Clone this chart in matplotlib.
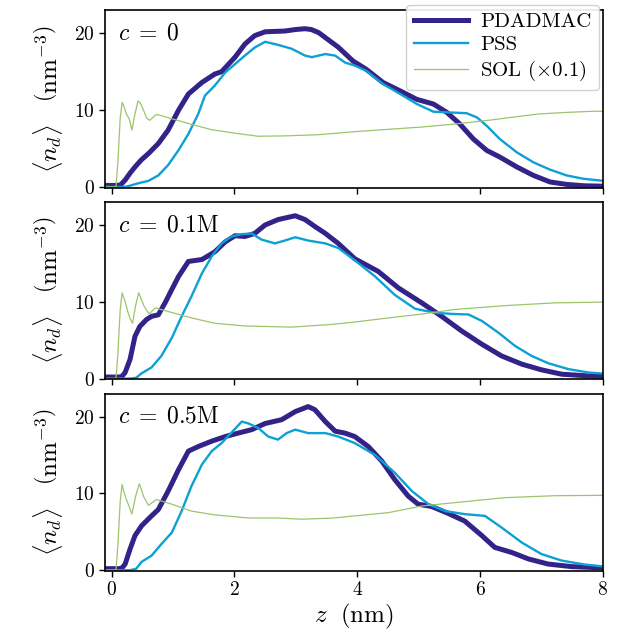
import numpy as np
import matplotlib
matplotlib.use("Agg")
import matplotlib.pyplot as plt

plt.rcParams['font.family'] = 'serif'
plt.rcParams['font.serif'] = ['cmr10', 'DejaVu Serif']
plt.rcParams['mathtext.fontset'] = 'cm'
plt.rcParams['axes.formatter.use_mathtext'] = True
plt.rcParams['axes.unicode_minus'] = False

panel_labels = [r'$c\;=\;0$', r'$c\;=\;0.1\mathrm{M}$', r'$c\;=\;0.5\mathrm{M}$']
series_names = ['PDADMAC', 'PSS', r'SOL ($\times 0.1$)']
y_ticks = [0, 10, 20]
x_ticks = [0, 2, 4, 6, 8]

# ---- panel 1 (c = 0) ----
p1_pdadmac_z = [-0.11, 0.10, 0.15, 0.22, 0.30, 0.38, 0.48, 0.60, 0.76, 0.92, 1.09, 1.25, 1.47, 1.68, 1.79,
                2.01, 2.17, 2.33, 2.50, 2.82, 3.00, 3.15, 3.25, 3.37, 3.69, 3.93, 4.15, 4.42, 4.70, 4.97,
                5.24, 5.46, 5.67, 5.89, 6.11, 6.32, 6.60, 6.87, 7.14, 7.41, 7.70, 8.00]
p1_pdadmac_n = [0.2, 0.2, 0.3, 0.9, 1.8, 2.6, 3.5, 4.35, 5.65, 7.4, 10.0, 12.1, 13.6, 14.7, 15.0,
                16.9, 18.6, 19.7, 20.2, 20.3, 20.5, 20.6, 20.5, 20.1, 18.2, 16.4, 15.3, 13.6, 12.5, 11.4,
                10.8, 9.7, 8.2, 6.25, 4.75, 3.9, 2.6, 1.5, 0.65, 0.33, 0.15, 0.1]
p1_pss_z = [-0.11, 0.20, 0.27, 0.43, 0.60, 0.76, 0.92, 1.09, 1.25, 1.41, 1.52, 1.68, 1.85, 2.01, 2.17,
            2.33, 2.50, 2.71, 2.93, 3.15, 3.26, 3.48, 3.64, 3.80, 3.96, 4.15, 4.42, 4.70, 4.97, 5.24,
            5.51, 5.78, 5.95, 6.11, 6.32, 6.60, 6.87, 7.14, 7.41, 7.68, 8.00]
p1_pss_n = [0.0, 0.0, 0.1, 0.47, 0.8, 1.5, 2.85, 4.8, 6.9, 9.5, 11.9, 13.2, 14.9, 16.0, 17.1,
            18.15, 18.9, 18.5, 18.0, 17.1, 16.9, 17.3, 17.1, 16.2, 15.8, 15.1, 13.4, 12.1, 10.8, 9.8,
            9.7, 9.6, 9.05, 7.95, 6.25, 4.5, 3.2, 2.25, 1.5, 1.07, 0.8]
p1_sol_z = [-0.11, 0.07, 0.10, 0.14, 0.17, 0.20, 0.24, 0.29, 0.33, 0.38, 0.43, 0.47, 0.52, 0.57, 0.62,
            0.68, 0.73, 0.80, 0.98, 1.30, 1.63, 2.06, 2.39, 2.82, 3.37, 3.96, 4.50, 5.05, 5.60, 6.13,
            6.55, 6.95, 7.40, 7.76, 8.00]
p1_sol_n = [0.0, 0.0, 3.0, 9.0, 11.0, 10.5, 9.5, 8.8, 7.4, 9.5, 11.2, 10.9, 9.96, 9.0, 8.67,
            9.1, 9.44, 9.3, 8.88, 8.15, 7.45, 6.94, 6.6, 6.65, 6.8, 7.2, 7.5, 7.8, 8.2, 8.67,
            9.1, 9.5, 9.7, 9.83, 9.87]

# ---- panel 2 (c = 0.1M) ----
p2_pdadmac_z = [-0.11, 0.12, 0.17, 0.22, 0.30, 0.38, 0.46, 0.57, 0.65, 0.76, 0.87, 0.98, 1.09, 1.25, 1.47,
                1.68, 1.85, 2.01, 2.17, 2.33, 2.50, 2.71, 2.99, 3.15, 3.31, 3.48, 3.69, 3.96, 4.34, 4.67,
                5.05, 5.37, 5.70, 6.03, 6.35, 6.68, 7.00, 7.33, 7.76, 8.00]
p2_pdadmac_n = [0.2, 0.2, 0.3, 0.8, 2.5, 5.5, 6.8, 7.7, 8.1, 8.3, 9.86, 11.6, 13.3, 15.25, 15.5,
                16.5, 17.8, 18.6, 18.5, 18.9, 20.0, 20.7, 21.2, 20.7, 19.8, 18.9, 17.6, 15.6, 13.96, 11.8,
                9.86, 8.13, 6.2, 4.47, 2.95, 1.88, 1.14, 0.57, 0.35, 0.3]
p2_pss_z = [-0.11, 0.30, 0.40, 0.49, 0.65, 0.81, 0.98, 1.14, 1.30, 1.47, 1.63, 1.79, 1.95, 2.12, 2.28,
            2.44, 2.66, 2.82, 2.99, 3.20, 3.48, 3.69, 3.96, 4.29, 4.61, 4.94, 5.27, 5.59, 5.81, 6.03,
            6.30, 6.57, 6.84, 7.11, 7.44, 7.76, 8.00]
p2_pss_n = [0.0, 0.0, 0.1, 0.7, 1.45, 2.95, 5.3, 8.1, 10.7, 13.7, 15.9, 17.6, 18.5, 18.8, 18.9,
            18.1, 17.6, 17.97, 18.4, 17.97, 17.6, 17.0, 15.4, 13.3, 10.9, 9.1, 8.56, 8.4, 8.35, 7.5,
            5.97, 4.25, 2.95, 2.0, 1.23, 0.8, 0.65]
p2_sol_z = [-0.11, 0.07, 0.10, 0.14, 0.17, 0.21, 0.26, 0.30, 0.34, 0.39, 0.44, 0.48, 0.53, 0.61, 0.71,
            0.98, 1.30, 1.68, 2.17, 2.93, 3.58, 3.96, 4.51, 5.05, 5.59, 6.41, 7.22, 8.00]
p2_sol_n = [0.0, 0.0, 3.0, 9.0, 11.16, 10.3, 8.8, 7.8, 7.2, 9.5, 11.16, 10.4, 9.4, 8.4, 9.2,
            8.6, 7.9, 7.2, 6.85, 6.7, 7.05, 7.36, 7.9, 8.4, 9.0, 9.5, 9.86, 9.96]

# ---- panel 3 (c = 0.5M) ----
p3_pdadmac_z = [-0.11, 0.12, 0.17, 0.22, 0.30, 0.38, 0.49, 0.65, 0.76, 0.92, 1.09, 1.25, 1.41, 1.63, 1.85,
                2.06, 2.28, 2.50, 2.77, 2.99, 3.20, 3.31, 3.48, 3.64, 3.80, 3.96, 4.18, 4.40, 4.61, 4.83,
                4.99, 5.21, 5.48, 5.75, 6.03, 6.24, 6.52, 6.79, 7.11, 7.49, 8.00]
p3_pdadmac_n = [0.2, 0.2, 0.3, 0.8, 2.75, 4.5, 5.8, 7.07, 7.9, 10.3, 13.1, 15.5, 16.1, 16.8, 17.4,
                17.85, 18.3, 19.1, 19.6, 20.65, 21.3, 20.9, 19.35, 18.1, 17.85, 17.4, 16.1, 14.2, 11.8, 9.65,
                8.6, 8.3, 7.4, 6.4, 4.5, 2.97, 2.3, 1.46, 0.8, 0.47, 0.3]
p3_pss_z = [-0.11, 0.30, 0.40, 0.49, 0.65, 0.81, 0.98, 1.14, 1.30, 1.47, 1.63, 1.79, 1.95, 2.12, 2.23,
            2.39, 2.55, 2.71, 2.85, 2.99, 3.20, 3.48, 3.69, 3.96, 4.29, 4.61, 4.89, 5.16, 5.43, 5.75,
            6.08, 6.35, 6.68, 7.00, 7.33, 7.71, 8.00]
p3_pss_n = [0.0, 0.0, 0.2, 1.1, 1.9, 3.4, 4.9, 7.7, 10.95, 13.75, 15.5, 16.55, 17.9, 19.35, 19.1,
            18.5, 17.4, 17.0, 17.85, 18.3, 17.85, 17.85, 17.4, 16.55, 15.0, 12.7, 10.3, 8.6, 7.7, 7.3,
            7.07, 5.56, 3.6, 2.1, 1.25, 0.73, 0.5]
p3_sol_z = [-0.11, 0.07, 0.10, 0.14, 0.17, 0.20, 0.24, 0.29, 0.33, 0.39, 0.45, 0.48, 0.52, 0.60, 0.73,
            0.98, 1.30, 1.68, 2.23, 2.71, 3.09, 3.58, 3.96, 4.51, 5.05, 5.59, 6.41, 7.22, 8.00]
p3_sol_n = [0.0, 0.0, 3.0, 9.0, 11.16, 10.2, 9.2, 8.2, 7.3, 9.6, 11.25, 10.6, 9.6, 8.45, 9.2,
            8.6, 7.7, 7.2, 6.8, 6.8, 6.64, 6.78, 7.07, 7.5, 8.36, 8.8, 9.45, 9.7, 9.75]

panels = [
    (p1_pdadmac_z, p1_pdadmac_n, p1_pss_z, p1_pss_n, p1_sol_z, p1_sol_n),
    (p2_pdadmac_z, p2_pdadmac_n, p2_pss_z, p2_pss_n, p2_sol_z, p2_sol_n),
    (p3_pdadmac_z, p3_pdadmac_n, p3_pss_z, p3_pss_n, p3_sol_z, p3_sol_n),
]

colors = ['#332288', '#0CA0D4', '#9DC46C']
widths = [3.6, 1.7, 0.9]

fig, axes = plt.subplots(3, 1, figsize=(6.28, 6.43), dpi=100, sharex=True)
fig.subplots_adjust(left=0.167, right=0.960, top=0.984, bottom=0.112, hspace=0.08)

for i, ax in enumerate(axes):
    pz, pn, sz, sn, wz, wn = panels[i]
    ax.plot(pz, pn, color=colors[0], lw=widths[0], label=series_names[0])
    ax.plot(sz, sn, color=colors[1], lw=widths[1], label=series_names[1])
    ax.plot(wz, wn, color=colors[2], lw=widths[2], label=series_names[2])
    ax.set_xlim(-0.11, 8.0)
    ax.set_ylim(-0.1, 23.0)
    ax.set_yticks(y_ticks)
    ax.set_xticks(x_ticks)
    ax.tick_params(direction='out', length=4, width=1.0, labelsize=14)
    for s in ax.spines.values():
        s.set_linewidth(1.2)
    ax.set_ylabel(r'$\langle n_d \rangle\quad\left(\mathrm{nm}^{-3}\right)$', fontsize=18, labelpad=6)
    ax.text(0.026, 0.87, panel_labels[i], transform=ax.transAxes, fontsize=17,
            ha='left', va='center')

leg = axes[0].legend(loc='upper right', bbox_to_anchor=(0.992, 1.028), borderaxespad=0.0,
                     fontsize=15, handlelength=2.6, borderpad=0.35, labelspacing=0.22,
                     handletextpad=0.6, fancybox=True, framealpha=0.9, edgecolor='#cccccc')
leg.set_zorder(5)
axes[2].set_xlabel(r'$z\ \ (\mathrm{nm})$', fontsize=18, labelpad=2)

fig.savefig('out.png', dpi=100)
